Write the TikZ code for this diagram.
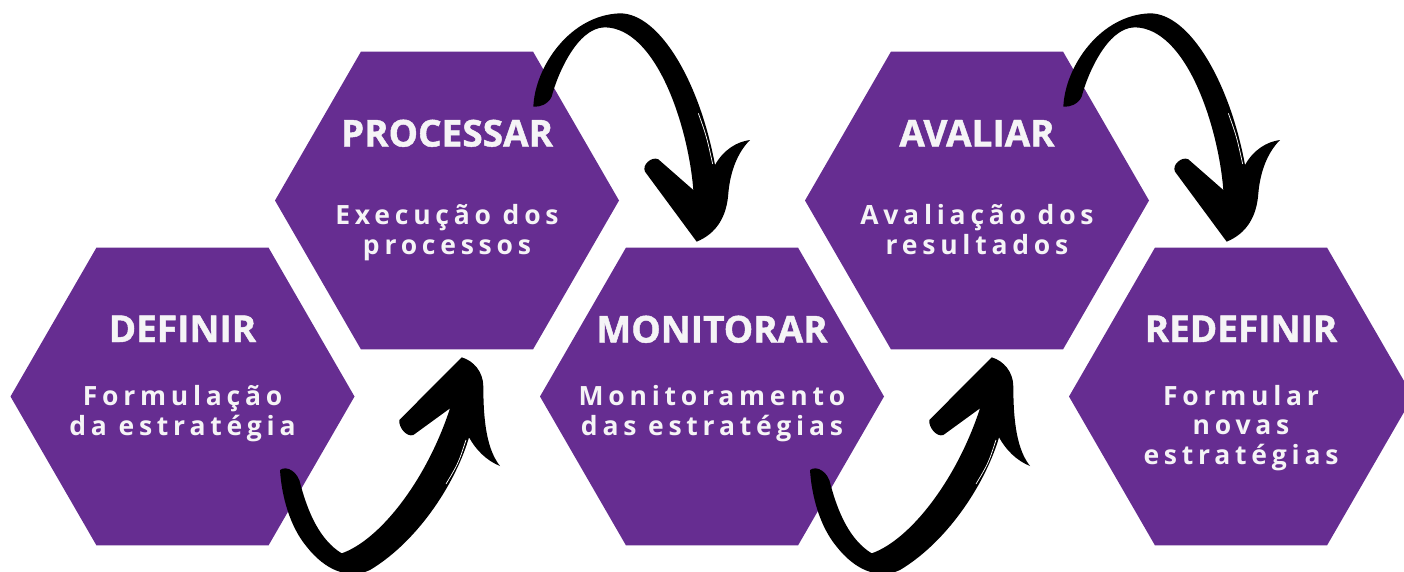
\documentclass[tikz,border=0pt]{standalone}
\usepackage{fontspec}
\setmainfont{Open Sans}
\newfontfamily\titlefont{Open Sans}[FakeBold=1.2]
\newfontfamily\subfont{Open Sans}[LetterSpace=18]
\usetikzlibrary{shapes.geometric}
\definecolor{hexpurple}{HTML}{662D91}
\definecolor{hextext}{HTML}{F5F4F6}

\tikzset{
  hexa/.style={regular polygon, regular polygon sides=6, minimum size=344pt,
    inner sep=0pt, outer sep=0pt, fill=hexpurple},
  titletext/.style={anchor=base, inner sep=0pt, text=hextext,
    font=\titlefont\fontsize{37}{40}\selectfont\bfseries},
  subtext/.style={anchor=base, align=center, inner sep=0pt, text=hextext,
    font=\subfont\fontsize{26.5}{29.5}\selectfont\bfseries},
  upswoosh/.pic={
    \fill[scale=1/3] (30,390) .. controls (50,375) and (85,395) .. (92,435)
      .. controls (115,520) and (150,600) .. (215,640)
      .. controls (330,600) and (470,420) .. (540,205)
      -- (430,285) .. controls (410,292) and (385,262) .. (388,240)
      -- (575,52) .. controls (610,62) and (640,95) .. (640,140)
      .. controls (640,250) and (652,330) .. (690,378)
      .. controls (650,362) and (618,330) .. (597,292)
      .. controls (560,420) and (450,600) .. (300,690)
      .. controls (235,720) and (165,690) .. (110,620)
      .. controls (60,560) and (35,470) .. (30,390) -- cycle;
    \draw[white, line width=0.7pt, scale=1/3] (588,300) .. controls (565,370) .. (528,432);
  },
  downswoosh/.pic={
    \fill[scale=1/3] (40,320) .. controls (45,200) and (150,45) .. (300,40)
      .. controls (420,40) and (540,250) .. (585,495)
      .. controls (610,450) and (650,425) .. (690,420)
      .. controls (650,460) and (630,520) .. (625,580)
      .. controls (620,650) and (590,700) .. (530,725)
      -- (375,515) .. controls (365,495) and (395,468) .. (415,478)
      -- (520,570)
      .. controls (505,380) and (410,85) .. (255,82)
      .. controls (170,82) and (110,230) .. (95,290)
      .. controls (85,312) and (60,322) .. (40,320) -- cycle;
    \draw[white, line width=0.7pt, scale=1/3] (535,340) .. controls (560,410) .. (578,492);
  },
}

\begin{document}
\begin{tikzpicture}[x=1pt,y=-1pt]
  \useasboundingbox (0,0) rectangle (1404,571);
  % hexagons
  \node[hexa] (def) at (182.5,396.5) {};
  \node[hexa] (proc) at (447,200.5) {};
  \node[hexa] (mon) at (712,396.5) {};
  \node[hexa] (aval) at (977,200.5) {};
  \node[hexa] (redef) at (1241,396.5) {};
  % titles
  \node[titletext] (defT) at (182.5,342) {DEFINIR};
  \node[titletext] (procT) at (447,146.5) {PROCESSAR};
  \node[titletext] (monT) at (712,342.5) {MONITORAR};
  \node[titletext] (avalT) at (977,146.5) {AVALIAR};
  \node[titletext] (redefT) at (1241,342) {REDEFINIR};
  % subtitles (base = last line)
  \node[subtext] (defS) at (182.5,435) {Formulação\\da estratégia};
  \node[subtext] (procS) at (447,254) {Execução dos\\processos};
  \node[subtext] (monS) at (712,435) {Monitoramento\\das estratégias};
  \node[subtext] (avalS) at (977,254) {Avaliação dos\\resultados};
  \node[subtext] (redefS) at (1241,464) {Formular\\novas\\estratégias};
  % arrows
  \pic at (270,340) {upswoosh};
  \pic at (520,0) {downswoosh};
  \pic at (800,340) {upswoosh};
  \pic at (1050,0) {downswoosh};
\end{tikzpicture}
\end{document}
